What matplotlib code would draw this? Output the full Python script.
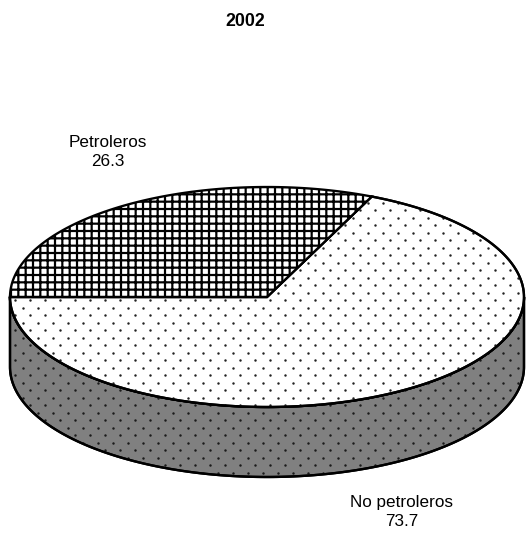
import numpy as np
import matplotlib
matplotlib.use('Agg')
import matplotlib.pyplot as plt
from matplotlib.patches import Polygon

# data
labels = ['Petroleros', 'No petroleros']
values = [26.3, 73.7]
title = '2002'

DPI = 88
plt.rcParams['font.family'] = ['Liberation Sans', 'DejaVu Sans']
plt.rcParams['hatch.linewidth'] = 1.8

fig = plt.figure(figsize=(526 / DPI, 534 / DPI), dpi=DPI)
ax = fig.add_axes([0, 0, 1, 1])
ax.set_xlim(0, 526)
ax.set_ylim(534, 0)
ax.axis('off')

# pie geometry (pixels)
cx, cy = 267, 297
a, b = 257, 110
depth = 70
warp = 5.45   # 3d view distortion of angles
lw = 1.9


def view_angle(theta):
    t = np.radians(theta)
    return np.degrees(np.arctan2(np.sin(t), warp * np.cos(t)))


def arc(p0, p1, n=200, dy=0):
    p = np.radians(np.linspace(p0, p1, n))
    return np.column_stack([cx + a * np.cos(p), cy - b * np.sin(p) + dy])


def dots(patch, color):
    xs, ys = [], []
    for i, y in enumerate(np.arange(0, 534, 7.5)):
        off = 7.5 if i % 2 else 0
        for x in np.arange(off, 526, 15):
            xs.append(x)
            ys.append(y)
    sc = ax.scatter(xs, ys, s=4, marker='o', color=color, linewidths=0, zorder=patch.get_zorder() + 0.1)
    sc.set_clip_path(patch)


# slice boundaries, first slice starts at 9 o'clock, clockwise
fracs = np.array(values) / sum(values)
bound = 180 - 360 * fracs[0]
p_end = view_angle(bound)

# side wall (front half, belongs to second slice)
top = arc(180, 360)
bot = arc(360, 180, dy=depth)
wall = Polygon(np.vstack([top, bot]), closed=True, facecolor='#808080',
               edgecolor='black', linewidth=lw, zorder=1)
ax.add_patch(wall)
dots(wall, '#1a1a1a')
ax.add_patch(Polygon(np.vstack([top, bot]), closed=True, fill=False,
                     edgecolor='black', linewidth=lw, zorder=1.5))

# top of slice 2
pts2 = np.vstack([[cx, cy], arc(p_end, -180)])
s2 = Polygon(pts2, closed=True, facecolor='white', edgecolor='black', linewidth=lw, zorder=2)
ax.add_patch(s2)
dots(s2, '#222222')
ax.add_patch(Polygon(pts2, closed=True, fill=False, edgecolor='black', linewidth=lw, zorder=3))

# top of slice 1
pts1 = np.vstack([[cx, cy], arc(p_end, 180)])
s1 = Polygon(pts1, closed=True, facecolor='white', edgecolor='black', hatch='++',
             linewidth=lw, zorder=4)
ax.add_patch(s1)

# labels
ax.text(108, 152, f'{labels[0]}\n{values[0]}', ha='center', va='center',
        fontsize=14, linespacing=1.3)
ax.text(402, 512, f'{labels[1]}\n{values[1]}', ha='center', va='center',
        fontsize=14, linespacing=1.3)
ax.text(245, 22, title, ha='center', va='center', fontsize=14.5, fontweight='bold')

fig.savefig('out.png', dpi=DPI)
